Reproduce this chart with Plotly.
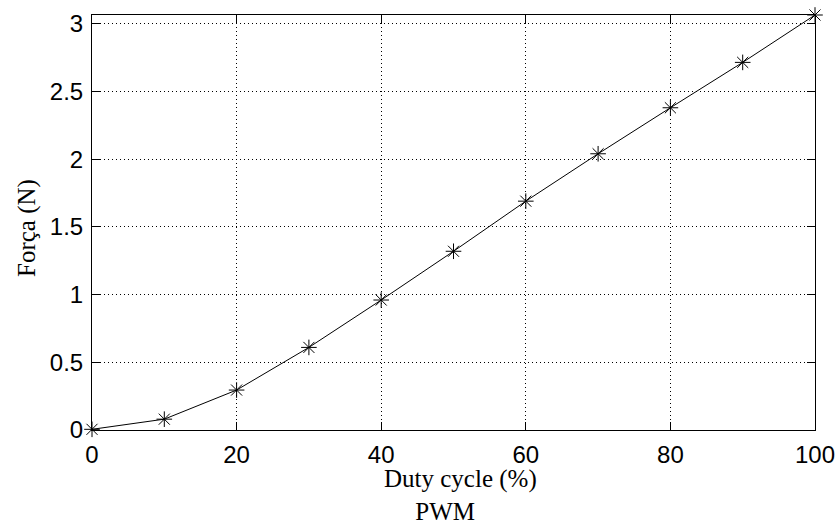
import plotly.graph_objects as go

duty_cycle = [0, 10, 20, 30, 40, 50, 60, 70, 80, 90, 100]
forca = [0.005, 0.08, 0.295, 0.61, 0.96, 1.32, 1.69, 2.04, 2.38, 2.715, 3.065]

x_ticks = [0, 20, 40, 60, 80, 100]
y_ticks = [0, 0.5, 1, 1.5, 2, 2.5, 3]
y_tick_labels = ["0", "0.5", "1", "1.5", "2", "2.5", "3"]

fig = go.Figure()
fig.add_trace(go.Scatter(
    x=duty_cycle, y=forca, mode="lines+markers",
    line=dict(color="black", width=1),
    marker=dict(symbol="asterisk-open", size=13, color="black",
                line=dict(color="black", width=1)),
    cliponaxis=False, showlegend=False,
))

axis_common = dict(
    showline=True, linecolor="black", linewidth=1, mirror="allticks",
    ticks="inside", ticklen=8, tickcolor="black", tickwidth=1,
    showgrid=True, gridcolor="black", gridwidth=1, griddash="1px,3px",
    zeroline=False, automargin=False,
    tickfont=dict(family="Liberation Sans, Arial", size=24, color="black"),
)

serif = dict(family="Liberation Serif, Times New Roman", size=25, color="black")

fig.update_layout(
    width=837, height=527,
    margin=dict(l=92, r=22, t=15, b=97),
    paper_bgcolor="white", plot_bgcolor="white",
    xaxis=dict(range=[0, 100], tickvals=x_ticks, ticklabelstandoff=3, **axis_common),
    yaxis=dict(range=[0, 3.065], tickvals=y_ticks, ticktext=y_tick_labels,
               ticklabelstandoff=3, **axis_common),
)

pw = 837 - 92 - 22
ph = 527 - 15 - 97

fig.add_annotation(
    text="Duty cycle (%)<br>" + "&nbsp;" * 5 + "PWM",
    x=(383 - 92) / pw, y=1 - (526 - 15) / ph,
    xref="paper", yref="paper", xanchor="left", yanchor="bottom",
    align="left", showarrow=False, borderpad=0, font=serif,
)
fig.add_annotation(
    text="Força (N)",
    x=(27 - 92) / pw, y=1 - (228 - 15) / ph,
    xref="paper", yref="paper", xanchor="center", yanchor="middle",
    textangle=-90, showarrow=False, borderpad=0, font=serif,
)

fig.write_html("out.html")
